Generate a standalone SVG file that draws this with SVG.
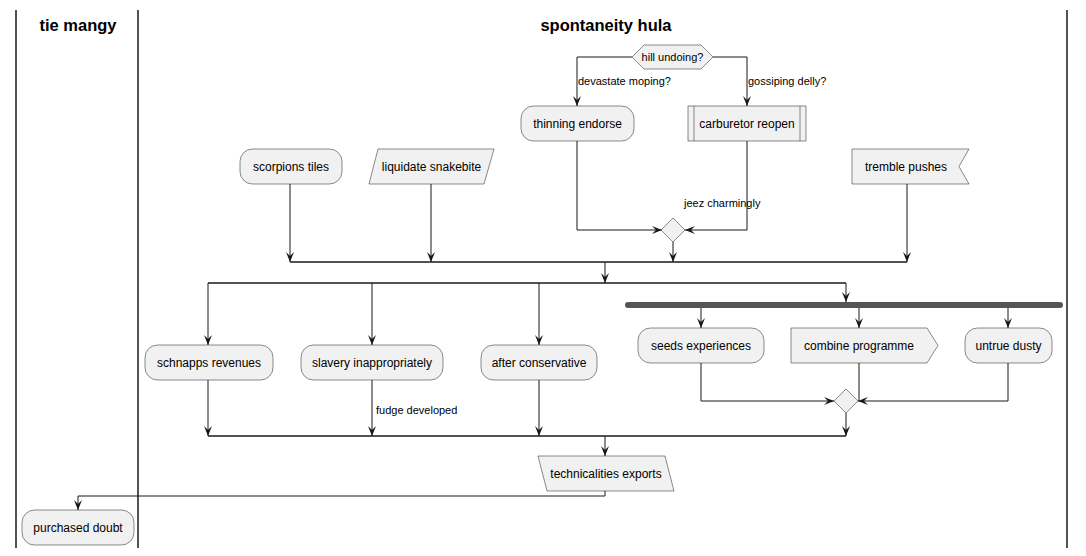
<svg xmlns="http://www.w3.org/2000/svg" width="1086" height="556" viewBox="0 0 1086 556">
<defs>
<marker id="ah" viewBox="0 0 10 10" refX="10" refY="5" markerWidth="10" markerHeight="10" markerUnits="userSpaceOnUse" orient="auto">
<path d="M0,1 L10,5 L0,9 L4,5 Z" fill="#181818"/>
</marker>
</defs>
<style>
.lane{stroke:#181818;stroke-width:1.5;fill:none}
.title{font-family:"Liberation Sans",Arial,sans-serif;font-size:16.5px;font-weight:bold;fill:#000;text-anchor:middle}
.n{fill:#F1F1F1;stroke:#181818;stroke-width:0.5}
.t{font-family:"Liberation Sans",Arial,sans-serif;font-size:12px;fill:#000;text-anchor:middle}
.lbl{font-family:"Liberation Sans",Arial,sans-serif;font-size:11px;fill:#000}
.c{stroke:#181818;stroke-width:1;fill:none}
.ca{stroke:#181818;stroke-width:1;fill:none;marker-end:url(#ah)}
.bar{stroke:#181818;stroke-width:1.5;fill:none}
.fork{fill:#555555;stroke:none}
</style>
<rect width="1086" height="556" fill="#FFFFFF"/>
<g id="lanes">
<line class="lane" x1="16" y1="10" x2="16" y2="548"/>
<line class="lane" x1="138" y1="10" x2="138" y2="548"/>
<line class="lane" x1="1067" y1="10" x2="1067" y2="548"/>
<text class="title" x="78" y="31">tie mangy</text>
<text class="title" x="606" y="31">spontaneity hula</text>
</g>
<g id="connectors">
<polyline class="ca" points="632,57 577,57 577,106"/>
<polyline class="ca" points="713,57 747,57 747,106"/>
<polyline class="ca" points="577,141 577,230 662,230"/>
<polyline class="ca" points="747,141 747,230 685,230"/>
<polyline class="ca" points="673,242 673,262"/>
<polyline class="ca" points="290,184 290,262"/>
<polyline class="ca" points="431,184 431,262"/>
<polyline class="ca" points="907,184 907,262"/>
<line class="bar" x1="290" y1="262" x2="907" y2="262"/>
<polyline class="ca" points="605,262 605,283"/>
<line class="bar" x1="208" y1="283" x2="846" y2="283"/>
<polyline class="ca" points="208,283 208,345"/>
<polyline class="ca" points="372,283 372,345"/>
<polyline class="ca" points="539,283 539,345"/>
<polyline class="ca" points="846,283 846,302"/>
<rect class="fork" x="625" y="302" width="438" height="6" rx="3"/>
<polyline class="ca" points="701,308 701,328"/>
<polyline class="ca" points="859,308 859,328"/>
<polyline class="ca" points="1008,308 1008,328"/>
<polyline class="ca" points="701,363 701,401 834,401"/>
<polyline class="c" points="859,363 859,401"/>
<polyline class="ca" points="1008,363 1008,401 858,401"/>
<polyline class="ca" points="846,413 846,436"/>
<line class="bar" x1="208" y1="436" x2="846" y2="436"/>
<polyline class="ca" points="208,380 208,436"/>
<polyline class="ca" points="372,380 372,436"/>
<polyline class="ca" points="539,380 539,436"/>
<polyline class="ca" points="605,436 605,456"/>
<polyline class="ca" points="605,491 605,496 78,496 78,510"/>
<text class="lbl" x="578" y="85">devastate moping?</text>
<text class="lbl" x="748" y="85">gossiping delly?</text>
<text class="lbl" x="684" y="207">jeez charmingly</text>
<text class="lbl" x="376" y="414">fudge developed</text>
</g>
<g id="hill_undoing">
<polygon class="n" points="632,57 644,45 701,45 713,57 701,69 644,69"/>
<text class="lbl" x="672.5" y="61" text-anchor="middle">hill undoing?</text>
</g>
<g id="thinning_endorse">
<rect class="n" x="521" y="106" width="113" height="35" rx="12.5"/>
<text class="t" x="577.5" y="128">thinning endorse</text>
</g>
<g id="carburetor_reopen">
<rect class="n" x="688" y="106" width="118" height="35"/>
<line class="n" x1="694" y1="106" x2="694" y2="141"/>
<line class="n" x1="800" y1="106" x2="800" y2="141"/>
<text class="t" x="747" y="128">carburetor reopen</text>
</g>
<g id="merge1">
<polygon class="n" points="673,218 685,230 673,242 661,230"/>
</g>
<g id="scorpions_tiles">
<rect class="n" x="240" y="149" width="102" height="35" rx="12.5"/>
<text class="t" x="291" y="171">scorpions tiles</text>
</g>
<g id="liquidate_snakebite">
<polygon class="n" points="378,149 494,149 484,184 369,184"/>
<text class="t" x="431.5" y="171">liquidate snakebite</text>
</g>
<g id="tremble_pushes">
<polygon class="n" points="852,149 969,149 959,166.5 969,184 852,184"/>
<text class="t" x="906" y="171">tremble pushes</text>
</g>
<g id="schnapps_revenues">
<rect class="n" x="145" y="345" width="128" height="35" rx="12.5"/>
<text class="t" x="209" y="367">schnapps revenues</text>
</g>
<g id="slavery_inappropriately">
<rect class="n" x="301" y="345" width="142" height="35" rx="12.5"/>
<text class="t" x="372" y="367">slavery inappropriately</text>
</g>
<g id="after_conservative">
<rect class="n" x="481" y="345" width="116" height="35" rx="12.5"/>
<text class="t" x="539" y="367">after conservative</text>
</g>
<g id="seeds_experiences">
<rect class="n" x="638" y="328" width="126" height="35" rx="12.5"/>
<text class="t" x="701" y="350">seeds experiences</text>
</g>
<g id="combine_programme">
<polygon class="n" points="791,328 927,328 938,345.5 927,363 791,363"/>
<text class="t" x="859" y="350">combine programme</text>
</g>
<g id="untrue_dusty">
<rect class="n" x="965" y="328" width="87" height="35" rx="12.5"/>
<text class="t" x="1008.5" y="350">untrue dusty</text>
</g>
<g id="merge2">
<polygon class="n" points="846,389 858,401 846,413 834,401"/>
</g>
<g id="technicalities_exports">
<polygon class="n" points="538,456 665,456 674,491 547,491"/>
<text class="t" x="606" y="478">technicalities exports</text>
</g>
<g id="purchased_doubt">
<rect class="n" x="22" y="510" width="112" height="35" rx="12.5"/>
<text class="t" x="78" y="532">purchased doubt</text>
</g>
</svg>
